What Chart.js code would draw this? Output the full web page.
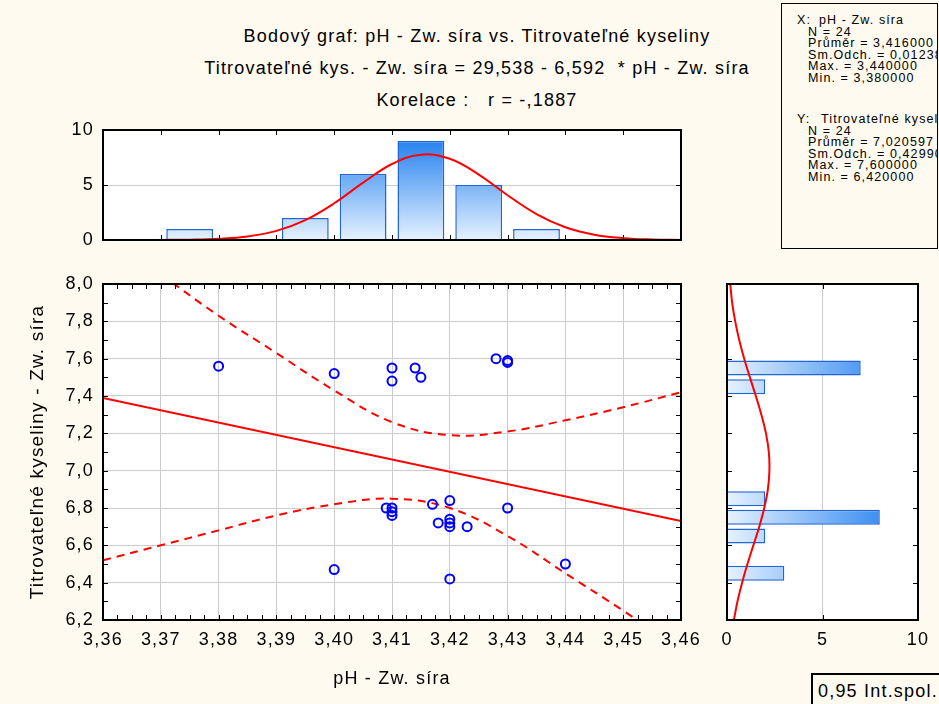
<!DOCTYPE html>
<html lang="cs">
<head>
<meta charset="utf-8">
<title>Bodový graf: pH - Zw. síra vs. Titrovateľné kyseliny</title>
<script src="https://cdn.jsdelivr.net/npm/chart.js@4.4.1/dist/chart.umd.min.js"></script>
<style>
    html, body { margin: 0; padding: 0; }
    body {
        width: 939px; height: 704px; position: relative; overflow: hidden;
        background: #fffaef; color: #000;
        font-family: 'Liberation Sans', Arial, sans-serif;
    }
    canvas { position: absolute; }
    #topHist { left: 0; top: 115px; }
    #scatterChart { left: 0; top: 270px; }
    #rightHist { left: 700px; top: 270px; }
    .title {
        position: absolute; left: 0; width: 954px; text-align: center;
        font-size: 18px; line-height: 20px; letter-spacing: 1.2px; white-space: pre;
    }
    #stats {
        position: absolute; left: 781px; top: 3px; width: 155px; height: 244px;
        border: 1px solid #000; overflow: hidden; white-space: pre;
        font-size: 12.5px; line-height: 12px; letter-spacing: 1.1px;
    }
    #stats div { position: absolute; }
    #ciBox {
        position: absolute; left: 811px; top: 673px; width: 140px; height: 40px;
        border: 2px solid #000; font-size: 18px; letter-spacing: 1.2px; white-space: pre;
    }
    #ciBox span { position: absolute; left: 5px; top: 6px; }
</style>
</head>
<body>
<div class="title" style="top:26px">Bodový graf: pH - Zw. síra vs. Titrovateľné kyseliny</div>
<div class="title" style="top:58px">Titrovateľné kys. - Zw. síra = 29,538 - 6,592  * pH - Zw. síra</div>
<div class="title" style="top:90px">Korelace :   r = -,1887</div>

<div id="stats"></div>
<div id="ciBox"><span>0,95 Int.spol.</span></div>

<canvas id="topHist" width="700" height="140"></canvas>
<canvas id="scatterChart" width="700" height="430"></canvas>
<canvas id="rightHist" width="239" height="430"></canvas>

<script>
// Axis ticks
const xTicks = [3.36, 3.37, 3.38, 3.39, 3.40, 3.41, 3.42, 3.43, 3.44, 3.45, 3.46];
const yTicks = [6.2, 6.4, 6.6, 6.8, 7.0, 7.2, 7.4, 7.6, 7.8, 8.0];
const countTicks = [0, 5, 10];

// Raw observations
const phValues   = [3.38, 3.40, 3.41, 3.41, 3.414, 3.415, 3.428, 3.43, 3.43, 3.40, 3.42, 3.44,
                    3.43, 3.42, 3.417, 3.409, 3.41, 3.41, 3.41, 3.418, 3.42, 3.42, 3.42, 3.423];
const acidValues = [7.56, 7.52, 7.55, 7.48, 7.55, 7.50, 7.60, 7.59, 7.58, 6.47, 6.42, 6.50,
                    6.80, 6.84, 6.82, 6.80, 6.80, 6.78, 6.76, 6.72, 6.74, 6.72, 6.70, 6.70];

// Histograms
const phBinCenters = [3.375, 3.395, 3.405, 3.415, 3.425, 3.435];
const phBinCounts = [1, 2, 6, 9, 5, 1];
const acidBinCenters = [6.45, 6.65, 6.75, 6.85, 7.45, 7.55];
const acidBinCounts = [3, 2, 8, 2, 2, 7];

// Regression line and 0.95 confidence band
const fitX = [3.36, 3.46];
const fitY = [7.39, 6.73];
const bandX = [3.36, 3.37, 3.38, 3.39, 3.40, 3.41, 3.42, 3.43, 3.44, 3.45, 3.46];
const bandUpper = [8.26, 8.05, 7.83, 7.63, 7.43, 7.26, 7.19, 7.21, 7.27, 7.34, 7.42];
const bandLower = [6.52, 6.60, 6.68, 6.76, 6.82, 6.85, 6.80, 6.65, 6.45, 6.25, 6.04];

// Fitted normal curves
const phCurveX = [3.360, 3.365, 3.370, 3.375, 3.380, 3.385, 3.390, 3.395, 3.400, 3.405, 3.410,
                  3.415, 3.420, 3.425, 3.430, 3.435, 3.440, 3.445, 3.450, 3.455, 3.460];
const phCurveY = [0.00, 0.00, 0.01, 0.03, 0.11, 0.32, 0.83, 1.81, 3.34, 5.21, 6.91,
                  7.76, 7.38, 5.95, 4.07, 2.36, 1.16, 0.48, 0.17, 0.05, 0.01];
const acidCurveY = [6.2, 6.3, 6.4, 6.5, 6.6, 6.7, 6.8, 6.9, 7.0, 7.1, 7.2, 7.3, 7.4, 7.5, 7.6, 7.7, 7.8, 7.9, 8.0];
const acidCurveX = [0.36, 0.55, 0.79, 1.07, 1.38, 1.69, 1.95, 2.14, 2.22, 2.19, 2.04, 1.80, 1.51, 1.20, 0.90, 0.64, 0.43, 0.27, 0.17];

// Summary box
const statsLines = [
    { text: 'X:', left: 15, top: 19 },
    { text: 'pH - Zw. síra', left: 37, top: 19 },
    { text: 'N = 24', left: 26, top: 30.5 },
    { text: 'Průměr = 3,416000', left: 26, top: 42 },
    { text: 'Sm.Odch. = 0,012383', left: 26, top: 53.5 },
    { text: 'Max. = 3,440000', left: 26, top: 65 },
    { text: 'Min. = 3,380000', left: 26, top: 76.5 },
    { text: 'Y:', left: 15, top: 118 },
    { text: 'Titrovateľné kyseliny', left: 39, top: 118 },
    { text: 'N = 24', left: 26, top: 129.5 },
    { text: 'Průměr = 7,020597', left: 26, top: 141 },
    { text: 'Sm.Odch. = 0,429900', left: 26, top: 152.5 },
    { text: 'Max. = 7,600000', left: 26, top: 164 },
    { text: 'Min. = 6,420000', left: 26, top: 175.5 }
];

const FONT = "'Liberation Sans', Arial, sans-serif";
Chart.defaults.font.family = FONT;
Chart.defaults.font.size = 18;
Chart.defaults.color = '#000';

const GRID = '#cccccc';
const RED = '#ff0000';

function fmt(value, digits) {
    return value.toFixed(digits).replace('.', ',');
}

function pairs(xs, ys) {
    return xs.map((x, i) => ({ x: x, y: ys[i] }));
}

// fixed axis sizes, no extra room for overhanging labels
function fixWidth(w) {
    return s => { s.width = w; s.paddingTop = 0; s.paddingBottom = 0; };
}
function fixHeight(h) {
    return s => { s.height = h; s.paddingLeft = 0; s.paddingRight = 0; };
}

// values for inner tick marks, with optional minor subdivisions
function tickValues(scale, minor) {
    const vals = scale.ticks.map(t => t.value);
    const out = [];
    vals.forEach((v, i) => {
        out.push(v);
        if (minor && i < vals.length - 1) {
            for (let k = 1; k < minor; k++) out.push(v + (vals[i + 1] - v) * k / minor);
        }
    });
    return out;
}

// wider text like the original renderer
const spacingPlugin = {
    id: 'spacing',
    beforeLayout(chart) { chart.ctx.letterSpacing = '1.2px'; },
    beforeDraw(chart) { chart.ctx.letterSpacing = '1.2px'; }
};

// white plot area, black frame with small inward ticks
const framePlugin = {
    id: 'frame',
    beforeDraw(chart) {
        const { ctx, chartArea: a } = chart;
        ctx.save();
        ctx.fillStyle = '#ffffff';
        ctx.fillRect(a.left, a.top, a.right - a.left, a.bottom - a.top);
        ctx.restore();
    },
    afterDatasetsDraw(chart, args, opts) {
        const { ctx, chartArea: a, scales } = chart;
        ctx.save();
        ctx.strokeStyle = '#000';
        ctx.lineWidth = 1;
        ctx.beginPath();
        tickValues(scales.x, opts.xMinor).forEach(v => {
            const p = Math.round(scales.x.getPixelForValue(v)) + 0.5;
            ctx.moveTo(p, a.top); ctx.lineTo(p, a.top + 5);
            ctx.moveTo(p, a.bottom); ctx.lineTo(p, a.bottom - 5);
        });
        tickValues(scales.y, opts.yMinor).forEach(v => {
            const p = Math.round(scales.y.getPixelForValue(v)) + 0.5;
            ctx.moveTo(a.left, p); ctx.lineTo(a.left + 5, p);
            ctx.moveTo(a.right, p); ctx.lineTo(a.right - 5, p);
        });
        ctx.stroke();
        ctx.lineWidth = 2;
        ctx.strokeRect(a.left, a.top, a.right - a.left, a.bottom - a.top);
        ctx.restore();
    }
};

function barGradient(context, horizontal) {
    const { ctx, chartArea } = context.chart;
    if (!chartArea) return null;
    const g = horizontal
        ? ctx.createLinearGradient(chartArea.left, 0, chartArea.right, 0)
        : ctx.createLinearGradient(0, chartArea.bottom, 0, chartArea.top);
    g.addColorStop(0, '#e6f2ff');
    g.addColorStop(1, '#1276ee');
    return g;
}

document.addEventListener('DOMContentLoaded', function() {
    fillStats();
    initializeTopHistogram();
    initializeScatterChart();
    initializeRightHistogram();
});

function fillStats() {
    const box = document.getElementById('stats');
    statsLines.forEach(line => {
        const d = document.createElement('div');
        d.textContent = line.text;
        d.style.left = line.left + 'px';
        d.style.top = (line.top - 9) + 'px';
        box.appendChild(d);
    });
}

function initializeTopHistogram() {
    const ctx = document.getElementById('topHist');
    new Chart(ctx, {
        type: 'bar',
        data: {
            datasets: [
                {
                    type: 'line',
                    data: pairs(phCurveX, phCurveY),
                    borderColor: RED,
                    borderWidth: 2,
                    pointRadius: 0,
                    tension: 0.4,
                    order: 0
                },
                {
                    type: 'bar',
                    data: pairs(phBinCenters, phBinCounts),
                    backgroundColor: c => barGradient(c, false),
                    borderColor: '#1f66d4',
                    borderWidth: 1.5,
                    barPercentage: 0.81,
                    categoryPercentage: 1,
                    order: 1
                }
            ]
        },
        options: {
            responsive: false,
            animation: false,
            events: [],
            layout: { padding: { left: 0, right: 19, top: 15, bottom: 0 } },
            plugins: { legend: { display: false }, tooltip: { enabled: false }, frame: { xMinor: 0, yMinor: 0 } },
            scales: {
                x: {
                    type: 'linear', min: 3.36, max: 3.46, offset: false,
                    afterBuildTicks: s => { s.ticks = xTicks.map(v => ({ value: v })); },
                    afterFit: fixHeight(15),
                    ticks: { display: false },
                    grid: { display: false },
                    border: { display: false }
                },
                y: {
                    min: 0, max: 10,
                    afterBuildTicks: s => { s.ticks = countTicks.map(v => ({ value: v })); },
                    afterFit: fixWidth(103),
                    ticks: { padding: 9, callback: v => String(v) },
                    grid: { color: GRID, drawTicks: false },
                    border: { display: false }
                }
            }
        },
        plugins: [spacingPlugin, framePlugin]
    });
}

function initializeScatterChart() {
    const ctx = document.getElementById('scatterChart');
    new Chart(ctx, {
        type: 'scatter',
        data: {
            datasets: [
                {
                    type: 'scatter',
                    data: pairs(phValues, acidValues),
                    pointStyle: 'circle',
                    pointRadius: 4.5,
                    borderColor: '#0000ff',
                    backgroundColor: 'rgba(0,0,0,0)',
                    borderWidth: 2,
                    order: 0
                },
                {
                    type: 'line',
                    data: pairs(fitX, fitY),
                    borderColor: RED,
                    borderWidth: 2,
                    pointRadius: 0,
                    order: 1
                },
                {
                    type: 'line',
                    data: pairs(bandX, bandUpper),
                    borderColor: RED,
                    borderWidth: 2,
                    borderDash: [8, 6],
                    pointRadius: 0,
                    tension: 0.4,
                    order: 1
                },
                {
                    type: 'line',
                    data: pairs(bandX, bandLower),
                    borderColor: RED,
                    borderWidth: 2,
                    borderDash: [8, 6],
                    pointRadius: 0,
                    tension: 0.4,
                    order: 1
                }
            ]
        },
        options: {
            responsive: false,
            animation: false,
            events: [],
            layout: { padding: { left: 0, right: 19, top: 14, bottom: 0 } },
            plugins: { legend: { display: false }, tooltip: { enabled: false }, frame: { xMinor: 4, yMinor: 2 } },
            scales: {
                x: {
                    type: 'linear', min: 3.36, max: 3.46,
                    afterBuildTicks: s => { s.ticks = xTicks.map(v => ({ value: v })); },
                    afterFit: fixHeight(80),
                    ticks: { padding: 9, autoSkip: false, maxRotation: 0, callback: v => fmt(v, 2) },
                    grid: { color: GRID, drawTicks: false },
                    border: { display: false },
                    title: { display: true, text: 'pH - Zw. síra', font: { size: 18 }, padding: { top: 0, bottom: 10 } }
                },
                y: {
                    type: 'linear', min: 6.2, max: 8.0,
                    afterBuildTicks: s => { s.ticks = yTicks.map(v => ({ value: v })); },
                    afterFit: fixWidth(103),
                    ticks: { padding: 9, callback: v => fmt(v, 1) },
                    grid: { color: GRID, drawTicks: false },
                    border: { display: false },
                    title: { display: true, text: 'Titrovateľné kyseliny - Zw. síra', font: { size: 19 }, padding: { top: 26, bottom: 0 } }
                }
            }
        },
        plugins: [spacingPlugin, framePlugin]
    });
}

function initializeRightHistogram() {
    const ctx = document.getElementById('rightHist');
    new Chart(ctx, {
        type: 'bar',
        data: {
            datasets: [
                {
                    type: 'line',
                    data: pairs(acidCurveX, acidCurveY),
                    borderColor: RED,
                    borderWidth: 2,
                    pointRadius: 0,
                    tension: 0.4,
                    order: 0
                },
                {
                    type: 'bar',
                    data: pairs(acidBinCounts, acidBinCenters),
                    backgroundColor: c => barGradient(c, true),
                    borderColor: '#1f66d4',
                    borderWidth: 1.5,
                    barPercentage: 0.8,
                    categoryPercentage: 1,
                    order: 1
                }
            ]
        },
        options: {
            indexAxis: 'y',
            responsive: false,
            animation: false,
            events: [],
            layout: { padding: { left: 0, right: 21, top: 14, bottom: 0 } },
            plugins: { legend: { display: false }, tooltip: { enabled: false }, frame: { xMinor: 0, yMinor: 0 } },
            scales: {
                x: {
                    type: 'linear', min: 0, max: 10,
                    afterBuildTicks: s => { s.ticks = countTicks.map(v => ({ value: v })); },
                    afterFit: fixHeight(80),
                    ticks: { padding: 9, maxRotation: 0, callback: v => String(v) },
                    grid: { color: GRID, drawTicks: false },
                    border: { display: false }
                },
                y: {
                    type: 'linear', min: 6.2, max: 8.0, offset: false,
                    afterBuildTicks: s => { s.ticks = yTicks.map(v => ({ value: v })); },
                    afterFit: fixWidth(27),
                    ticks: { display: false },
                    grid: { display: false },
                    border: { display: false }
                }
            }
        },
        plugins: [spacingPlugin, framePlugin]
    });
}
</script>
</body>
</html>
